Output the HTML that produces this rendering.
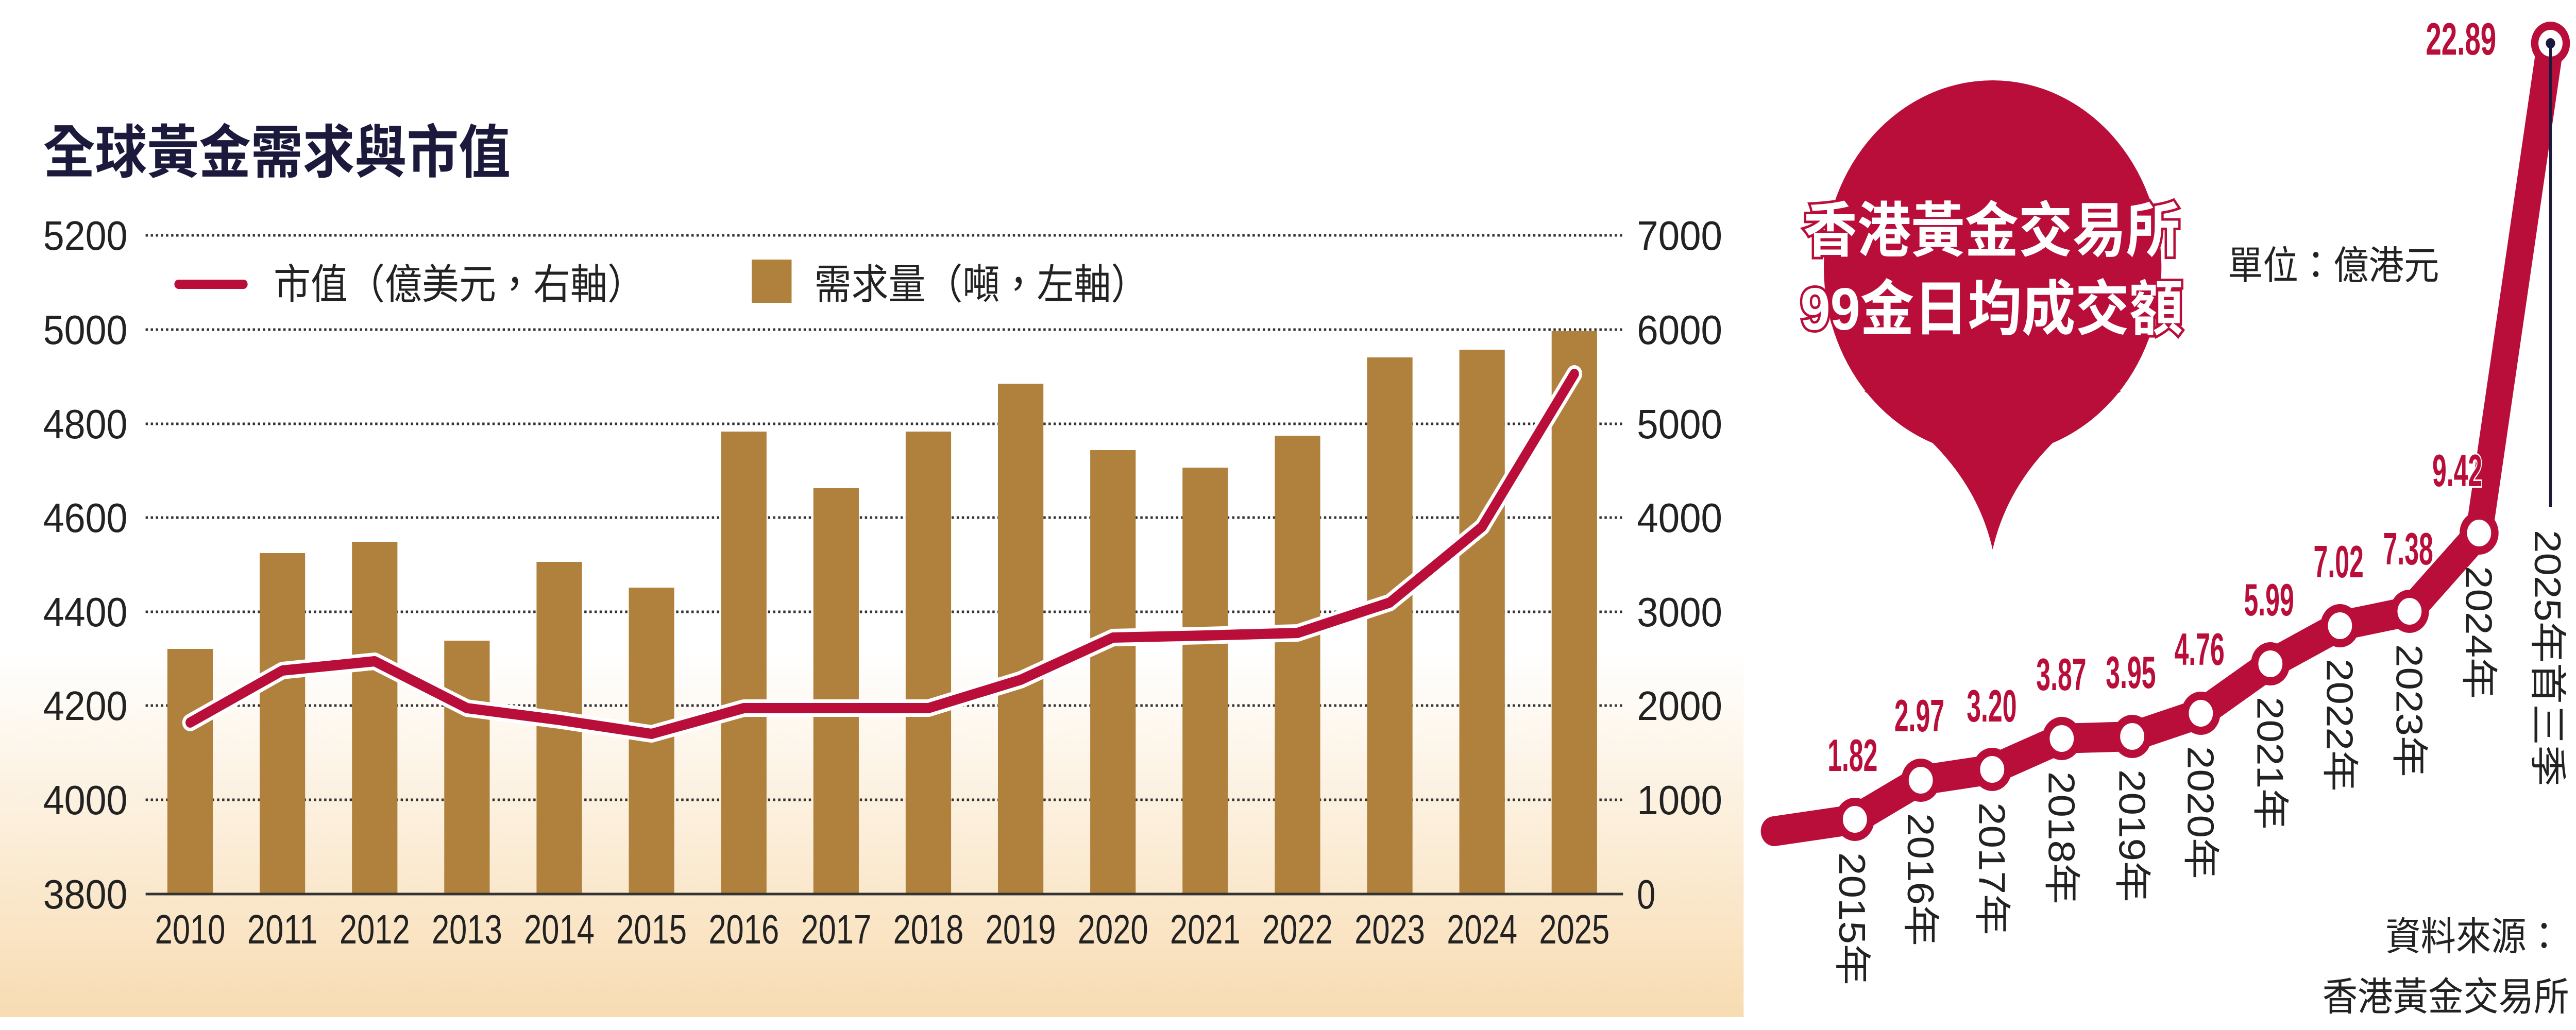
<!DOCTYPE html>
<html><head><meta charset="utf-8"><style>
html,body{margin:0;padding:0;background:#fff;width:100%;height:100%;overflow:hidden;}
svg{display:block;width:100vw;height:100vh;}
.n{font-family:"Liberation Sans",sans-serif;}
.c{font-family:"Liberation Sans","Noto Sans CJK TC",sans-serif;}
</style></head><body>
<svg viewBox="0 0 5555 2000" preserveAspectRatio="none" xmlns="http://www.w3.org/2000/svg">
<defs>
<linearGradient id="bg" x1="0" y1="0" x2="0" y2="1">
<stop offset="0" stop-color="#fff"/><stop offset="0.64" stop-color="#fff"/><stop offset="1" stop-color="#f8dcb2"/>
</linearGradient>
</defs>
<rect x="0" y="0" width="3760" height="1975" fill="url(#bg)"/>
<text x="93" y="335" class="c" font-size="112" font-weight="bold" fill="#1b1a3c">全球黃金需求與市值</text>
<g stroke="#333" stroke-width="5" stroke-dasharray="5,6">
<line x1="314" y1="457" x2="3500" y2="457"/><line x1="314" y1="640" x2="3500" y2="640"/>
<line x1="314" y1="823" x2="3500" y2="823"/><line x1="314" y1="1005" x2="3500" y2="1005"/>
<line x1="314" y1="1188" x2="3500" y2="1188"/><line x1="314" y1="1370" x2="3500" y2="1370"/>
<line x1="314" y1="1553" x2="3500" y2="1553"/>
</g>
<g class="n" font-size="80" fill="#222">
<text x="93" y="485" textLength="182" lengthAdjust="spacingAndGlyphs">5200</text>
<text x="93" y="668" textLength="182" lengthAdjust="spacingAndGlyphs">5000</text>
<text x="93" y="851" textLength="182" lengthAdjust="spacingAndGlyphs">4800</text>
<text x="93" y="1033" textLength="182" lengthAdjust="spacingAndGlyphs">4600</text>
<text x="93" y="1216" textLength="182" lengthAdjust="spacingAndGlyphs">4400</text>
<text x="93" y="1398" textLength="182" lengthAdjust="spacingAndGlyphs">4200</text>
<text x="93" y="1581" textLength="182" lengthAdjust="spacingAndGlyphs">4000</text>
<text x="93" y="1764" textLength="182" lengthAdjust="spacingAndGlyphs">3800</text>
</g>
<g class="n" font-size="80" fill="#222">
<text x="3530" y="485" textLength="184" lengthAdjust="spacingAndGlyphs">7000</text>
<text x="3530" y="668" textLength="184" lengthAdjust="spacingAndGlyphs">6000</text>
<text x="3530" y="851" textLength="184" lengthAdjust="spacingAndGlyphs">5000</text>
<text x="3530" y="1033" textLength="184" lengthAdjust="spacingAndGlyphs">4000</text>
<text x="3530" y="1216" textLength="184" lengthAdjust="spacingAndGlyphs">3000</text>
<text x="3530" y="1398" textLength="184" lengthAdjust="spacingAndGlyphs">2000</text>
<text x="3530" y="1581" textLength="184" lengthAdjust="spacingAndGlyphs">1000</text>
<text x="3530" y="1764" textLength="40" lengthAdjust="spacingAndGlyphs">0</text>
</g>
<g fill="#b0813c">
<rect x="361" y="1260" width="98" height="476"/><rect x="560" y="1074" width="98" height="662"/>
<rect x="759" y="1052" width="98" height="684"/><rect x="958" y="1244" width="98" height="492"/>
<rect x="1157" y="1091" width="98" height="645"/><rect x="1356" y="1141" width="98" height="595"/>
<rect x="1555" y="838" width="98" height="898"/><rect x="1754" y="948" width="98" height="788"/>
<rect x="1953" y="838" width="98" height="898"/><rect x="2152" y="745" width="98" height="991"/>
<rect x="2351" y="874" width="98" height="862"/><rect x="2550" y="908" width="98" height="828"/>
<rect x="2749" y="846" width="98" height="890"/><rect x="2948" y="694" width="98" height="1042"/>
<rect x="3147" y="679" width="98" height="1057"/><rect x="3346" y="643" width="98" height="1093"/>
</g>
<line x1="314" y1="1736" x2="3500" y2="1736" stroke="#333" stroke-width="5"/>
<polyline fill="none" stroke="#fff" stroke-width="34" stroke-linejoin="round" stroke-linecap="round" points="410,1403 609,1302 808,1284 1007,1375 1206,1398 1405,1425 1604,1375 1803,1375 2002,1375 2201,1320 2400,1238 2599,1234 2798,1229 2997,1170 3196,1023 3395,726"/>
<polyline fill="none" stroke="#b90e3a" stroke-width="20" stroke-linejoin="round" stroke-linecap="round" points="410,1403 609,1302 808,1284 1007,1375 1206,1398 1405,1425 1604,1375 1803,1375 2002,1375 2201,1320 2400,1238 2599,1234 2798,1229 2997,1170 3196,1023 3395,726"/>
<g class="n" font-size="80" fill="#222">
<text x="334" y="1832" textLength="152" lengthAdjust="spacingAndGlyphs">2010</text>
<text x="533" y="1832" textLength="152" lengthAdjust="spacingAndGlyphs">2011</text>
<text x="732" y="1832" textLength="152" lengthAdjust="spacingAndGlyphs">2012</text>
<text x="931" y="1832" textLength="152" lengthAdjust="spacingAndGlyphs">2013</text>
<text x="1130" y="1832" textLength="152" lengthAdjust="spacingAndGlyphs">2014</text>
<text x="1329" y="1832" textLength="152" lengthAdjust="spacingAndGlyphs">2015</text>
<text x="1528" y="1832" textLength="152" lengthAdjust="spacingAndGlyphs">2016</text>
<text x="1727" y="1832" textLength="152" lengthAdjust="spacingAndGlyphs">2017</text>
<text x="1926" y="1832" textLength="152" lengthAdjust="spacingAndGlyphs">2018</text>
<text x="2125" y="1832" textLength="152" lengthAdjust="spacingAndGlyphs">2019</text>
<text x="2324" y="1832" textLength="152" lengthAdjust="spacingAndGlyphs">2020</text>
<text x="2523" y="1832" textLength="152" lengthAdjust="spacingAndGlyphs">2021</text>
<text x="2722" y="1832" textLength="152" lengthAdjust="spacingAndGlyphs">2022</text>
<text x="2921" y="1832" textLength="152" lengthAdjust="spacingAndGlyphs">2023</text>
<text x="3120" y="1832" textLength="152" lengthAdjust="spacingAndGlyphs">2024</text>
<text x="3319" y="1832" textLength="152" lengthAdjust="spacingAndGlyphs">2025</text>
</g>
<line x1="385" y1="552" x2="525" y2="552" stroke="#b90e3a" stroke-width="18" stroke-linecap="round"/>
<text x="590" y="580" class="c" font-size="80" fill="#222">市值（億美元，右軸）</text>
<rect x="1621" y="504" width="86" height="84" fill="#b0813c"/>
<text x="1756" y="580" class="c" font-size="80" fill="#222">需求量（噸，左軸）</text>

<circle cx="4297" cy="520" r="364" fill="#b90e3a"/>
<path d="M4020,760 Q4250,880 4297,1067 Q4344,880 4574,760 Z" fill="#b90e3a"/>
<g class="c" font-size="116" font-weight="bold" fill="#fff" stroke="#b90e3a" stroke-width="10" paint-order="stroke" text-anchor="middle">
<text x="4295" y="488">香港黃金交易所</text>
<text x="4295" y="640">99金日均成交額</text>
</g>
<text x="4804" y="542" class="c" font-size="76" fill="#222">單位：億港元</text>
<polyline fill="none" stroke="#b90e3a" stroke-width="58" stroke-linejoin="round" stroke-linecap="round" points="3826,1614 4000,1591 4142,1515 4296,1494 4446,1434 4598,1430 4746,1385 4896,1289 5046,1215 5196,1187 5346,1035 5500,84"/>
<g fill="#fff" stroke="#b90e3a" stroke-width="16">
<circle cx="4000" cy="1591" r="34"/><circle cx="4142" cy="1515" r="34"/><circle cx="4296" cy="1494" r="34"/>
<circle cx="4446" cy="1434" r="34"/><circle cx="4598" cy="1430" r="34"/><circle cx="4746" cy="1385" r="34"/>
<circle cx="4896" cy="1289" r="34"/><circle cx="5046" cy="1215" r="34"/><circle cx="5196" cy="1187" r="34"/>
<circle cx="5346" cy="1035" r="34"/><circle cx="5500" cy="84" r="34"/>
</g>
<line x1="5500" y1="84" x2="5500" y2="984" stroke="#1b1a3c" stroke-width="6"/>
<circle cx="5500" cy="84" r="10" fill="#1b1a3c"/>
<g class="n" font-size="88" font-weight="bold" fill="#b90e3a" stroke="#fff" stroke-width="6" paint-order="stroke">
<text x="3941" y="1497" textLength="108" lengthAdjust="spacingAndGlyphs">1.82</text>
<text x="4085" y="1420" textLength="108" lengthAdjust="spacingAndGlyphs">2.97</text>
<text x="4241" y="1401" textLength="108" lengthAdjust="spacingAndGlyphs">3.20</text>
<text x="4391" y="1340" textLength="108" lengthAdjust="spacingAndGlyphs">3.87</text>
<text x="4541" y="1336" textLength="108" lengthAdjust="spacingAndGlyphs">3.95</text>
<text x="4689" y="1291" textLength="108" lengthAdjust="spacingAndGlyphs">4.76</text>
<text x="4839" y="1195" textLength="108" lengthAdjust="spacingAndGlyphs">5.99</text>
<text x="4989" y="1121" textLength="108" lengthAdjust="spacingAndGlyphs">7.02</text>
<text x="5139" y="1096" textLength="108" lengthAdjust="spacingAndGlyphs">7.38</text>
<text x="5245" y="944" textLength="108" lengthAdjust="spacingAndGlyphs">9.42</text>
<text x="5231" y="106" textLength="152" lengthAdjust="spacingAndGlyphs">22.89</text>
</g>
<g class="c" font-size="80" fill="#222">
<text transform="translate(3966,1655) rotate(90)">2015年</text>
<text transform="translate(4114,1579) rotate(90)">2016年</text>
<text transform="translate(4268,1558) rotate(90)">2017年</text>
<text transform="translate(4418,1498) rotate(90)">2018年</text>
<text transform="translate(4570,1494) rotate(90)">2019年</text>
<text transform="translate(4718,1449) rotate(90)">2020年</text>
<text transform="translate(4868,1353) rotate(90)">2021年</text>
<text transform="translate(5018,1279) rotate(90)">2022年</text>
<text transform="translate(5168,1251) rotate(90)">2023年</text>
<text transform="translate(5318,1099) rotate(90)">2024年</text>
<text transform="translate(5466,1029) rotate(90)">2025年首三季</text>
</g>
<g class="c" font-size="76" fill="#222" text-anchor="end">
<text x="5524" y="1845">資料來源：</text>
<text x="5540" y="1962">香港黃金交易所</text>
</g>
</svg>
</body></html>
